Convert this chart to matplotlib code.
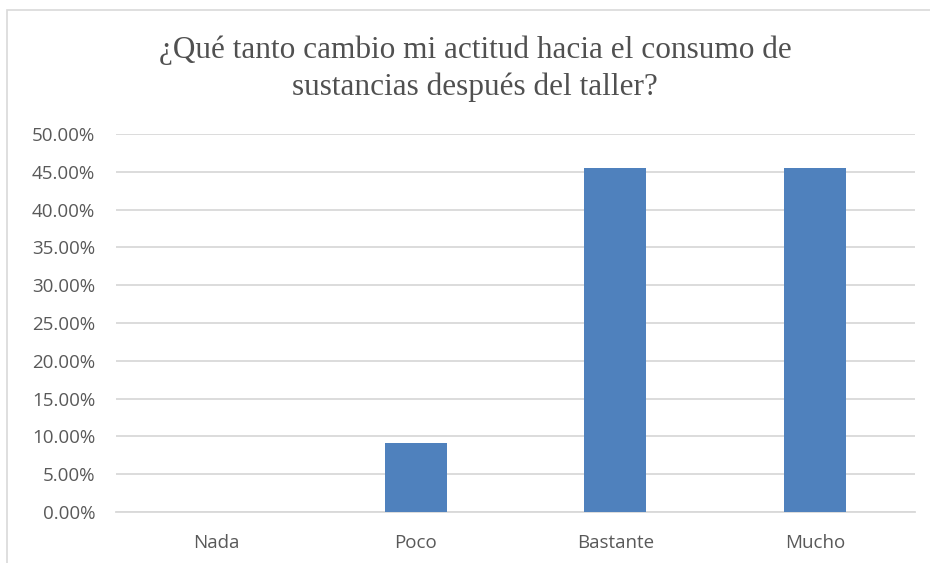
import matplotlib.pyplot as plt
from matplotlib.patches import Rectangle
from matplotlib.ticker import FuncFormatter, MultipleLocator

# survey answers and share of respondents
categories = ['Nada', 'Poco', 'Bastante', 'Mucho']
shares = [0.0, 0.0909, 0.4545, 0.4545]
title = '¿Qué tanto cambio mi actitud hacia el consumo de\nsustancias después del taller?'

W, H = 930, 563
fig = plt.figure(figsize=(W / 100, H / 100), dpi=100)
fig.patch.set_facecolor('white')

# chart frame (left and top edges only, the rest runs off the image)
fig.patches.append(Rectangle((7 / W, -0.1), 1.2, (H - 10) / H + 0.1,
                             transform=fig.transFigure, fill=False,
                             edgecolor='#d9d9d9', linewidth=1.2))

ax = fig.add_axes([116 / W, 1 - 512 / H, (915 - 116) / W, (512 - 134) / H])
x = list(range(len(categories)))
ax.bar(x, shares, width=0.31, color='#4f81bd', zorder=3)

ax.set_xlim(-0.5, len(categories) - 0.5)
ax.set_ylim(0, 0.5)
ax.yaxis.set_major_locator(MultipleLocator(0.05))
ax.yaxis.set_major_formatter(FuncFormatter(lambda v, p: '{:.2f}%'.format(v * 100)))
ax.grid(axis='y', color='#d9d9d9', linewidth=1.3, zorder=0)
ax.set_xticks(x)
ax.set_xticklabels(categories)

for side in ['top', 'right', 'left']:
    ax.spines[side].set_visible(False)
ax.spines['bottom'].set_color('#d9d9d9')
ax.spines['bottom'].set_linewidth(1.3)
ax.tick_params(axis='both', length=0, labelsize=13.5, labelcolor='#595959')
ax.tick_params(axis='y', pad=15)
ax.tick_params(axis='x', pad=16)
for lbl in ax.get_xticklabels() + ax.get_yticklabels():
    lbl.set_family('Open Sans')

fig.text(475 / W, 1 - 69 / H, title, ha='center', va='center',
         family='Liberation Serif', fontsize=22.5, color='#505050',
         linespacing=1.35)

fig.savefig('out.png', dpi=100, facecolor='white')
